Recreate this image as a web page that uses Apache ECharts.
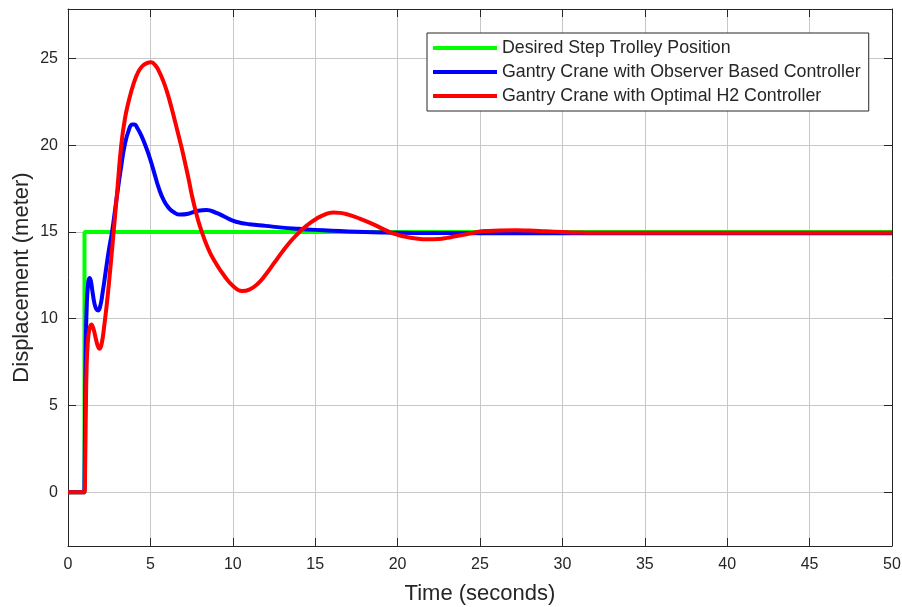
<!DOCTYPE html>
<html>
<head>
<meta charset="utf-8">
<script src="https://cdn.jsdelivr.net/npm/echarts@6/dist/echarts.min.js"></script>
<style>html,body{margin:0;padding:0;background:#fff}#c{width:902px;height:607px}</style>
</head>
<body>
<div id="c"></div>
<script>
var seriesNames = ['Desired Step Trolley Position', 'Gantry Crane with Observer Based Controller', 'Gantry Crane with Optimal H2 Controller'];
var xTicks = [0, 5, 10, 15, 20, 25, 30, 35, 40, 45, 50];
var yTicks = [0, 5, 10, 15, 20, 25];

var greenT = [0, 1, 1, 50];
var greenV = [0, 0, 15, 15];

var blueT = [0, 0.99, 1.0, 1.04, 1.08, 1.14, 1.22, 1.3, 1.38, 1.48, 1.6, 1.72, 1.82, 1.95, 2.1, 2.3, 2.47, 2.67, 2.93, 3.2, 3.44, 3.7, 3.9, 4.04, 4.2, 4.45, 4.75, 5.0, 5.25, 5.5, 5.82, 6.1, 6.4, 6.8, 7.3, 7.8, 8.4, 9.0, 9.5, 10, 10.5, 11, 12, 13, 14, 15, 16, 17, 18, 19, 20, 22, 25, 30, 40, 50];
var blueV = [0, 0, 0.5, 5, 8.5, 10.8, 12.0, 12.35, 12.2, 11.6, 10.9, 10.55, 10.48, 10.7, 11.5, 12.8, 13.9, 15.0, 16.8, 18.6, 20.0, 20.9, 21.2, 21.2, 21.0, 20.55, 19.85, 19.15, 18.35, 17.55, 16.8, 16.4, 16.15, 16.0, 16.05, 16.2, 16.27, 16.1, 15.88, 15.65, 15.52, 15.45, 15.35, 15.25, 15.18, 15.12, 15.07, 15.03, 15.0, 14.97, 14.95, 14.94, 14.93, 14.93, 14.93, 14.93];

var redT = [0, 1.0, 1.04, 1.08, 1.13, 1.2, 1.3, 1.42, 1.55, 1.7, 1.82, 1.92, 2.05, 2.2, 2.35, 2.5, 2.75, 3.0, 3.23, 3.45, 3.7, 4.0, 4.25, 4.5, 4.75, 5.05, 5.3, 5.5, 5.76, 6.0, 6.27, 6.5, 6.87, 7.1, 7.33, 7.52, 7.75, 8.0, 8.5, 9, 9.5, 10, 10.57, 11, 11.5, 12, 12.5, 13, 13.5, 14, 14.5, 15, 15.5, 16.1, 16.5, 17, 17.7, 18.5, 19.5, 20, 20.5, 21, 21.8, 22.5, 23, 23.5, 24, 24.85, 25.5, 26.2, 27.2, 28, 29, 30, 31, 32, 35, 40, 50];
var redV = [0, 0, 1.5, 4.5, 7.2, 8.6, 9.4, 9.67, 9.4, 8.8, 8.4, 8.27, 8.6, 9.6, 10.8, 12.2, 14.8, 17.5, 20.0, 21.5, 22.6, 23.6, 24.2, 24.55, 24.72, 24.78, 24.6, 24.3, 23.75, 23.1, 22.2, 21.35, 19.95, 19.0, 18.0, 17.1, 16.2, 15.35, 14.05, 13.15, 12.45, 11.9, 11.6, 11.68, 12.0, 12.55, 13.2, 13.85, 14.45, 14.95, 15.38, 15.72, 15.97, 16.12, 16.1, 16.0, 15.77, 15.45, 15.0, 14.84, 14.72, 14.64, 14.58, 14.6, 14.66, 14.75, 14.84, 15.0, 15.06, 15.09, 15.1, 15.08, 15.04, 15.0, 14.97, 14.96, 14.96, 14.96, 14.96];

function pairs(t, v) { return t.map(function (x, i) { return [x, v[i]]; }); }

var txt = '#262626';
var font = 'Liberation Sans, Arial, Helvetica, sans-serif';
var chart = echarts.init(document.getElementById('c'), null, { renderer: 'canvas' });

var option = {
  animation: false,
  backgroundColor: '#fff',
  grid: { left: 68, right: 10, top: 9, bottom: 61, containLabel: false, outerBoundsMode: 'none' },
  legend: {
    orient: 'vertical',
    left: 427, top: 33,
    padding: [6, 8, 6, 6],
    itemGap: 6,
    itemWidth: 64, itemHeight: 18,
    icon: 'path://M0,0L64,0L64,4L0,4Z',
    backgroundColor: '#fff',
    borderColor: '#262626', borderWidth: 1,
    textStyle: { fontSize: 17.8, color: txt, fontFamily: font, lineHeight: 18 },
    data: seriesNames
  },
  xAxis: [{
    type: 'value', min: 0, max: 50, interval: 5,
    name: 'Time (seconds)', nameLocation: 'middle', nameGap: 37, nameMoveOverlap: false,
    nameTextStyle: { fontSize: 22, color: txt, fontFamily: font },
    axisLine: { show: true, onZero: false, lineStyle: { color: txt, width: 1 } },
    axisTick: { show: true, inside: true, length: 8, lineStyle: { color: txt } },
    axisLabel: { fontSize: 16, color: txt, fontFamily: font, margin: 11,
      customValues: xTicks },
    splitLine: { show: true, lineStyle: { color: '#c8c8c8', width: 1 } }
  }, {
    type: 'value', min: 0, max: 50, interval: 5, position: 'top',
    axisLine: { show: true, onZero: false, lineStyle: { color: txt, width: 1 } },
    axisTick: { show: true, inside: true, length: 8, lineStyle: { color: txt } },
    axisLabel: { show: false },
    splitLine: { show: false }
  }],
  yAxis: [{
    type: 'value', min: -3.1, max: 27.85,
    axisTick: { show: true, inside: true, length: 8, lineStyle: { color: txt }, customValues: yTicks },
    axisLabel: { fontSize: 16, color: txt, fontFamily: font, margin: 10, customValues: yTicks },
    name: 'Displacement (meter)', nameLocation: 'middle', nameGap: 35, nameMoveOverlap: false,
    nameTextStyle: { fontSize: 22, color: txt, fontFamily: font },
    axisLine: { show: true, onZero: false, lineStyle: { color: txt, width: 1 } },
    splitLine: { show: true, lineStyle: { color: '#c8c8c8', width: 1 } }
  }, {
    type: 'value', min: -3.1, max: 27.85, position: 'right',
    axisLine: { show: true, onZero: false, lineStyle: { color: txt, width: 1 } },
    axisTick: { show: true, inside: true, length: 8, lineStyle: { color: txt }, customValues: yTicks },
    axisLabel: { show: false },
    splitLine: { show: false }
  }],
  series: [{
    name: seriesNames[0], type: 'line', data: pairs(greenT, greenV),
    symbol: 'none', lineStyle: { color: '#00ff00', width: 4 }, itemStyle: { color: '#00ff00' }, z: 2
  }, {
    name: seriesNames[1], type: 'line', data: pairs(blueT, blueV),
    symbol: 'none', smooth: 0.5,
    lineStyle: { color: '#0000ff', width: 4, join: 'round' }, itemStyle: { color: '#0000ff' }, z: 3
  }, {
    name: seriesNames[2], type: 'line', data: pairs(redT, redV),
    symbol: 'none', smooth: 0.5,
    lineStyle: { color: '#ff0000', width: 4, join: 'round' }, itemStyle: { color: '#ff0000' }, z: 4
  }]
};
chart.setOption(option);
</script>
</body>
</html>
